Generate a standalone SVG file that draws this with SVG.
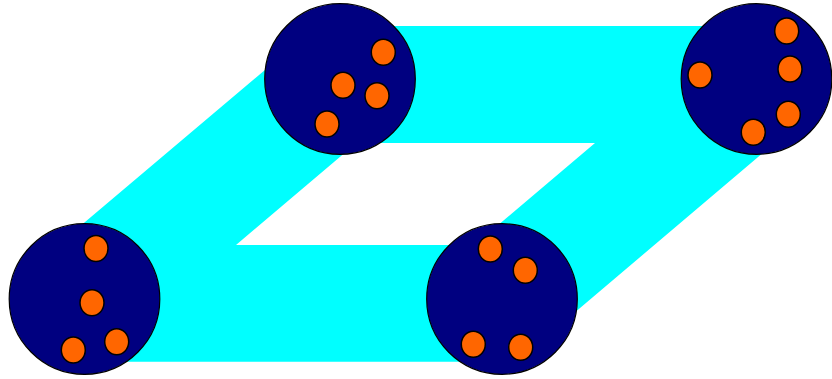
<svg xmlns="http://www.w3.org/2000/svg" width="832" height="379" viewBox="0 0 832 379">
<style>
.band{fill:#00FFFF;fill-rule:evenodd;stroke:none}
.node{fill:#000080;stroke:#000;stroke-width:1.2}
.dot{fill:#FF6600;stroke:#000;stroke-width:1.5}
</style>
<rect width="832" height="379" fill="#fff"/>
<g id="connectors">
<path class="band" d="M317,26 L754,26 L791.5,128.7 L516.7,361.7 L79,361.7 L41.5,258.8 Z M356.4,143 L595,143 L474.6,245 L236,245 Z"/>
</g>
<g id="node-bottom-left">
<circle class="node" cx="84.5" cy="299" r="75.3"/>
<ellipse class="dot" cx="96" cy="248.5" rx="12" ry="13"/>
<ellipse class="dot" cx="92" cy="302.7" rx="12" ry="13"/>
<ellipse class="dot" cx="116.7" cy="341.7" rx="12" ry="13"/>
<ellipse class="dot" cx="73.3" cy="350" rx="12" ry="13"/>
</g>
<g id="node-top-middle">
<circle class="node" cx="340" cy="79" r="75.3"/>
<ellipse class="dot" cx="383.3" cy="52.3" rx="12" ry="13"/>
<ellipse class="dot" cx="343" cy="85.3" rx="12" ry="13"/>
<ellipse class="dot" cx="377" cy="95.7" rx="12" ry="13"/>
<ellipse class="dot" cx="327" cy="124" rx="12" ry="13"/>
</g>
<g id="node-top-right">
<circle class="node" cx="756.5" cy="79" r="75.3"/>
<ellipse class="dot" cx="786.7" cy="31" rx="12" ry="13"/>
<ellipse class="dot" cx="790" cy="69" rx="12" ry="13"/>
<ellipse class="dot" cx="700" cy="75" rx="12" ry="13"/>
<ellipse class="dot" cx="788.3" cy="114.3" rx="12" ry="13"/>
<ellipse class="dot" cx="753.3" cy="132.3" rx="12" ry="13"/>
</g>
<g id="node-bottom-middle">
<circle class="node" cx="502" cy="299" r="75.3"/>
<ellipse class="dot" cx="490.3" cy="249" rx="12" ry="13"/>
<ellipse class="dot" cx="525.3" cy="270.3" rx="12" ry="13"/>
<ellipse class="dot" cx="473.3" cy="344.3" rx="12" ry="13"/>
<ellipse class="dot" cx="520.7" cy="347.3" rx="12" ry="13"/>
</g>
</svg>
